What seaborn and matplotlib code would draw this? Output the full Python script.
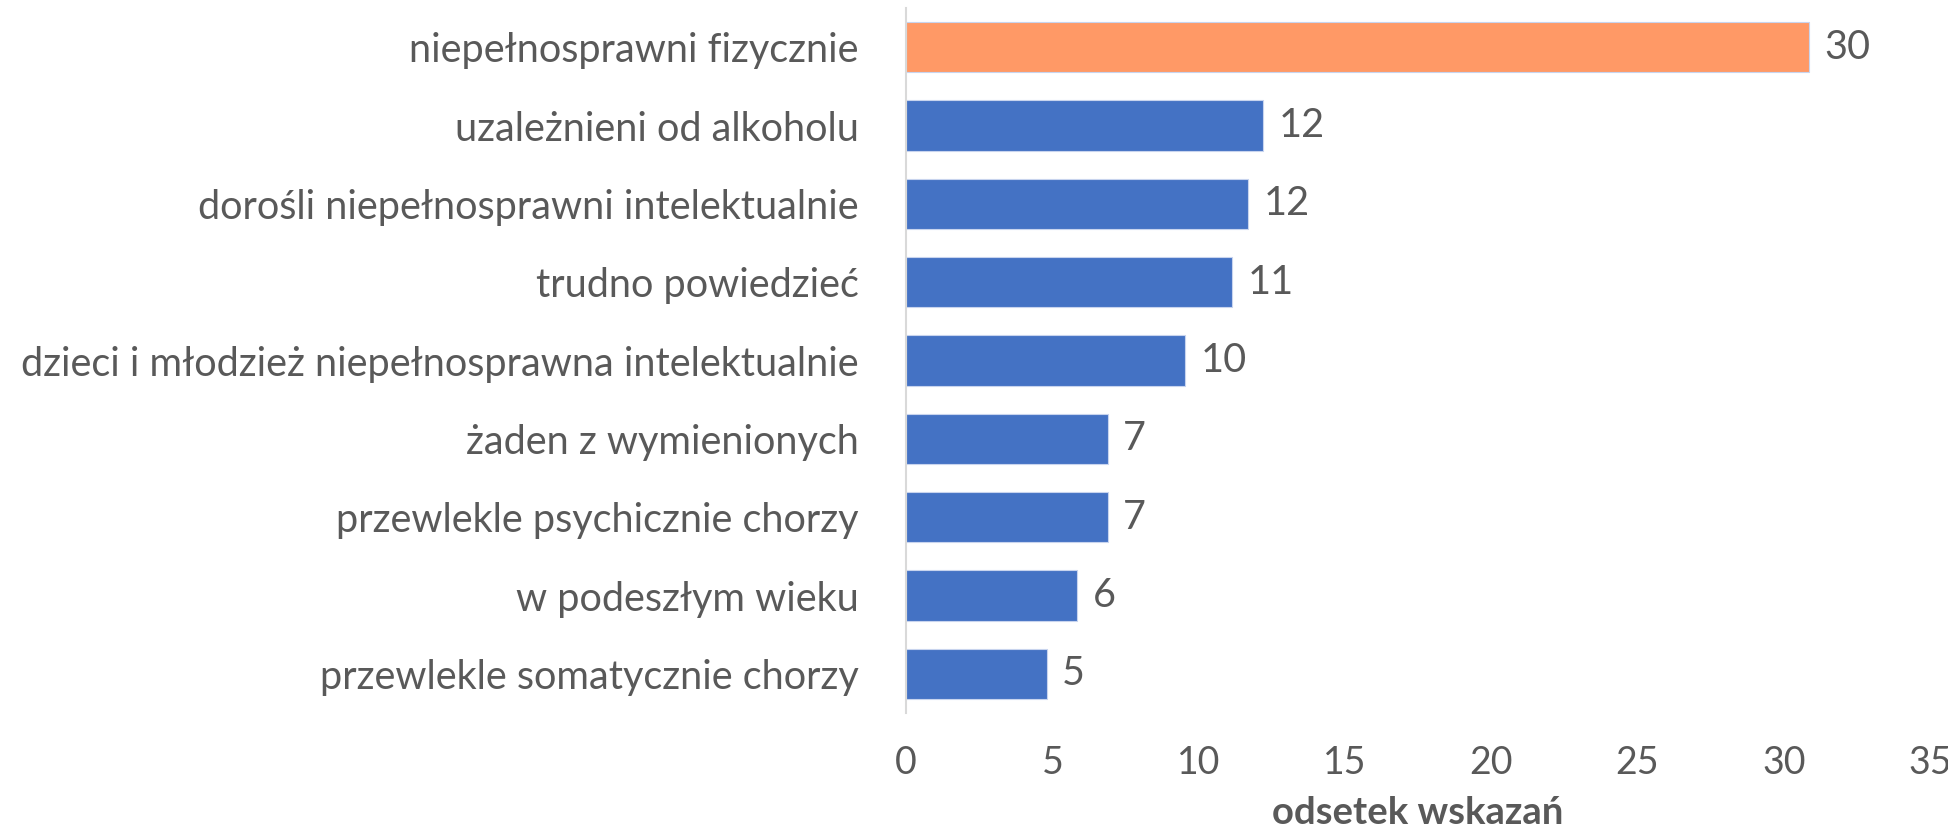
import matplotlib
matplotlib.use('Agg')
import matplotlib.pyplot as plt
import seaborn as sns

categories = [
    'niepełnosprawni fizycznie',
    'uzależnieni od alkoholu',
    'dorośli niepełnosprawni intelektualnie',
    'trudno powiedzieć',
    'dzieci i młodzież niepełnosprawna intelektualnie',
    'żaden z wymienionych',
    'przewlekle psychicznie chorzy',
    'w podeszłym wieku',
    'przewlekle somatycznie chorzy',
]
values = [30.85, 12.2, 11.7, 11.15, 9.55, 6.9, 6.9, 5.85, 4.8]
value_labels = ['30', '12', '12', '11', '10', '7', '7', '6', '5']
bar_colors = ['#FF9966'] + ['#4472C4'] * 8

sns.set_style('white')
plt.rcParams['font.family'] = ['Lato', 'DejaVu Sans']
text_color = '#595959'
fs = 28.5

fig = plt.figure(figsize=(19.49, 8.35), dpi=100)
ax = fig.add_axes([0.4649, 0.1461, 0.5254, 0.8443])

sns.barplot(x=values, y=categories, hue=categories, palette=bar_colors,
            saturation=1, legend=False, width=0.64, orient='h', ax=ax,
            edgecolor='#c8d4ee', linewidth=0.8)

for cont, lab in zip(ax.containers, value_labels):
    ax.bar_label(cont, labels=[lab], padding=11, fontsize=fs, color=text_color)

ax.set_xlim(0, 35)
ax.set_ylim(8.5, -0.5)
ax.set_xticks(range(0, 36, 5))
ax.tick_params(axis='x', length=0, pad=23, labelsize=fs - 1.5, labelcolor=text_color)
ax.tick_params(axis='y', length=0, pad=34, labelsize=fs, labelcolor=text_color)
ax.set_xlabel('odsetek wskazań', fontsize=fs - 1, fontweight='bold', color=text_color, labelpad=11)
ax.set_ylabel('')

for side in ['top', 'right', 'bottom']:
    ax.spines[side].set_visible(False)
ax.spines['left'].set_color('#D9D9D9')
ax.spines['left'].set_linewidth(1.5)

fig.savefig('out.png', dpi=100)
